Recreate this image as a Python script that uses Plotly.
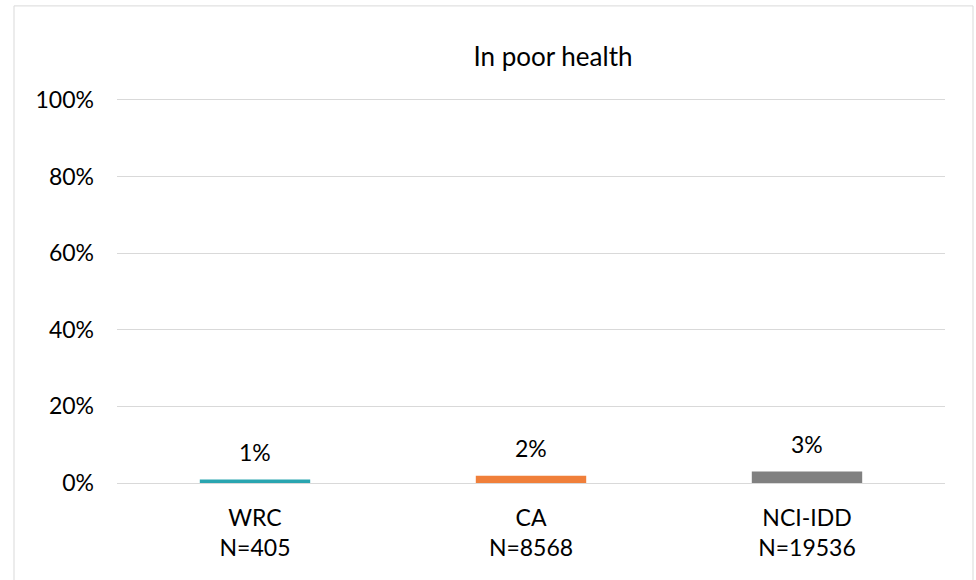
import plotly.graph_objects as go

categories = ["WRC<br>N=405", "CA<br>N=8568", "NCI-IDD<br>N=19536"]
values = [0.9, 1.9, 3.0]
colors = ["#2AA5B0", "#F07F3A", "#808080"]
tick_vals = [0, 20, 40, 60, 80, 100]
tick_text = ["0%", "20%", "40%", "60%", "80%", "100%"]
title_text = "In poor health"

FONT = "Lato"
FS = 23

fig = go.Figure()
fig.add_trace(go.Bar(
    x=categories, y=values, marker_color=colors, width=0.4,
    marker_line_width=0, showlegend=False, hoverinfo="skip",
))

for c, v in zip(categories, values):
    fig.add_annotation(x=c, y=v, text=f"{round(v):.0f}%", showarrow=False,
                       yanchor="bottom", yshift=12,
                       font=dict(family=FONT, size=FS, color="#000000"))

W, H = 976, 580
YMAX = 100.5
L, R, B = 117, 31, 97
ph = (H - B - 100) * YMAX / 100
T = H - B - ph
pw = W - L - R

fig.add_shape(type="rect", xref="paper", yref="paper",
              x0=(14 - L) / pw, x1=(973 - L) / pw,
              y0=-(H + 10 - (H - B)) / ph, y1=((H - B) - 6) / ph,
              line=dict(color="#D9D9D9", width=1), fillcolor="rgba(0,0,0,0)",
              layer="below")

fig.update_layout(
    width=W, height=H,
    margin=dict(l=L, r=R, t=T, b=B, autoexpand=False),
    paper_bgcolor="white", plot_bgcolor="white",
    title=dict(text=title_text, x=(553 - L) / pw, xref="paper", xanchor="center",
               y=1 - 57 / H, yanchor="middle",
               font=dict(family=FONT, size=26, color="#000000")),
    font=dict(family=FONT, size=FS, color="#000000"),
    bargap=0.6,
    yaxis=dict(range=[0, YMAX], tickvals=tick_vals, ticktext=tick_text,
               showgrid=True, gridcolor="#D9D9D9", gridwidth=1,
               zeroline=False, showline=False, ticks="", ticklabelstandoff=22,
               tickfont=dict(family=FONT, size=FS, color="#000000")),
    xaxis=dict(showline=True, linecolor="#D9D9D9", linewidth=1, ticks="",
               ticklabelstandoff=14,
               tickfont=dict(family=FONT, size=FS, color="#000000")),
)

fig.write_html("out.html", config={"displayModeBar": False},
               post_script="document.body.style.margin='0';")
